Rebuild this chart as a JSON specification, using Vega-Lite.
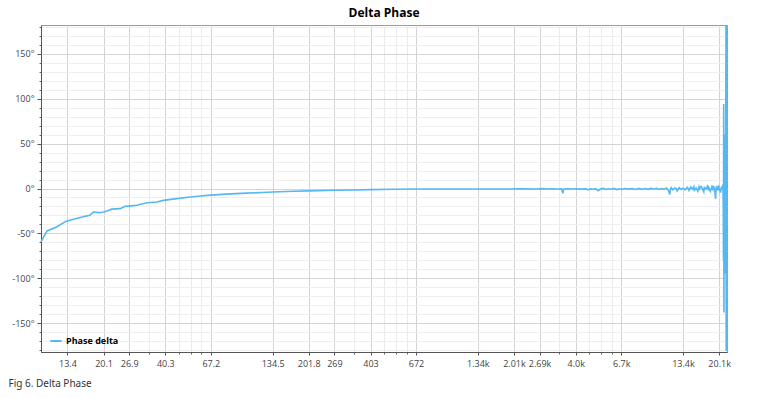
{
  "$schema": "https://vega.github.io/schema/vega-lite/v6.json",
  "width": 686,
  "height": 327,
  "autosize": "none",
  "padding": {"left": 41, "top": 25, "right": 33, "bottom": 46},
  "background": "white",
  "config": {
    "view": {"stroke": "#9a9a9a", "strokeWidth": 1},
    "font": "Open Sans"
  },
  "title": {
    "text": "Delta Phase",
    "font": "Open Sans",
    "fontSize": 12,
    "fontWeight": "bold",
    "color": "#000000",
    "anchor": "middle",
    "offset": 3
  },
  "data": {
    "values": [
      {"freq": 10, "phase": -59.3},
      {"freq": 10.7, "phase": -47.2},
      {"freq": 11.9, "phase": -42.8},
      {"freq": 13.2, "phase": -36.6},
      {"freq": 14.4, "phase": -34.3},
      {"freq": 16.4, "phase": -31.0},
      {"freq": 17.3, "phase": -29.8},
      {"freq": 18.0, "phase": -26.2},
      {"freq": 19.0, "phase": -26.8},
      {"freq": 19.8, "phase": -26.7},
      {"freq": 21.0, "phase": -25.0},
      {"freq": 22.1, "phase": -23.0},
      {"freq": 24.3, "phase": -22.4},
      {"freq": 25.7, "phase": -19.9},
      {"freq": 27.5, "phase": -19.3},
      {"freq": 29.3, "phase": -18.6},
      {"freq": 32.8, "phase": -15.8},
      {"freq": 36.7, "phase": -15.0},
      {"freq": 39.5, "phase": -13.2},
      {"freq": 45.9, "phase": -11.3},
      {"freq": 53.4, "phase": -9.5},
      {"freq": 60, "phase": -8.4},
      {"freq": 67.2, "phase": -7.4},
      {"freq": 80, "phase": -6.3},
      {"freq": 100, "phase": -5.2},
      {"freq": 120, "phase": -4.4},
      {"freq": 134.5, "phase": -3.9},
      {"freq": 170, "phase": -3.1},
      {"freq": 201.8, "phase": -2.6},
      {"freq": 269, "phase": -2.0},
      {"freq": 340, "phase": -1.6},
      {"freq": 403, "phase": -1.3},
      {"freq": 520, "phase": -0.9},
      {"freq": 672, "phase": -0.6},
      {"freq": 900, "phase": -0.5},
      {"freq": 1200, "phase": -0.5},
      {"freq": 1700, "phase": -0.5},
      {"freq": 2200, "phase": -0.45},
      {"freq": 2600, "phase": -0.5},
      {"freq": 2800, "phase": -0.1},
      {"freq": 2900, "phase": -0.6},
      {"freq": 3100, "phase": -0.3},
      {"freq": 3300, "phase": -0.6},
      {"freq": 3450, "phase": -0.4},
      {"freq": 3492, "phase": -5.5},
      {"freq": 3530, "phase": -0.5},
      {"freq": 3700, "phase": -0.2},
      {"freq": 3900, "phase": -0.6},
      {"freq": 4100, "phase": -0.3},
      {"freq": 4300, "phase": -0.7},
      {"freq": 4500, "phase": -0.2},
      {"freq": 4650, "phase": -1.5},
      {"freq": 4750, "phase": -0.4},
      {"freq": 4900, "phase": -0.9},
      {"freq": 5050, "phase": -0.2},
      {"freq": 5200, "phase": -2.5},
      {"freq": 5350, "phase": -0.4},
      {"freq": 5500, "phase": 0.2},
      {"freq": 5650, "phase": -1.0},
      {"freq": 5800, "phase": -0.3},
      {"freq": 6000, "phase": -0.8},
      {"freq": 6200, "phase": 0.1},
      {"freq": 6400, "phase": -1.2},
      {"freq": 6600, "phase": -0.3},
      {"freq": 6800, "phase": -0.9},
      {"freq": 7000, "phase": 0.0},
      {"freq": 7300, "phase": -0.7},
      {"freq": 7600, "phase": -0.2},
      {"freq": 7900, "phase": -1.1},
      {"freq": 8200, "phase": 0.1},
      {"freq": 8500, "phase": -0.9},
      {"freq": 8800, "phase": -0.1},
      {"freq": 9100, "phase": -0.9},
      {"freq": 9400, "phase": 0.1},
      {"freq": 9700, "phase": -0.6},
      {"freq": 10000, "phase": 0.3},
      {"freq": 10300, "phase": -1.1},
      {"freq": 10600, "phase": -0.2},
      {"freq": 10900, "phase": -0.8},
      {"freq": 11200, "phase": 0.5},
      {"freq": 11400, "phase": -1.8},
      {"freq": 11614, "phase": -6.7},
      {"freq": 11700, "phase": -0.3},
      {"freq": 11800, "phase": 0.9},
      {"freq": 12000, "phase": -1.4},
      {"freq": 12300, "phase": 0.6},
      {"freq": 12500, "phase": -0.4},
      {"freq": 12600, "phase": -2.6},
      {"freq": 12900, "phase": 1.0},
      {"freq": 13200, "phase": -0.9},
      {"freq": 13500, "phase": 0.3},
      {"freq": 13800, "phase": -1.6},
      {"freq": 14100, "phase": 1.4},
      {"freq": 14300, "phase": -0.2},
      {"freq": 14400, "phase": -2.2},
      {"freq": 14700, "phase": 1.7},
      {"freq": 15000, "phase": -0.8},
      {"freq": 15200, "phase": 2.0},
      {"freq": 15300, "phase": -1.9},
      {"freq": 15600, "phase": 0.6},
      {"freq": 15900, "phase": -2.9},
      {"freq": 16100, "phase": 1.9},
      {"freq": 16200, "phase": -0.4},
      {"freq": 16500, "phase": 2.4},
      {"freq": 16800, "phase": -1.2},
      {"freq": 17000, "phase": -3.8},
      {"freq": 17100, "phase": 1.1},
      {"freq": 17400, "phase": -0.6},
      {"freq": 17700, "phase": 2.5},
      {"freq": 17900, "phase": -2.0},
      {"freq": 18000, "phase": 0.8},
      {"freq": 18300, "phase": -3.2},
      {"freq": 18600, "phase": 1.9},
      {"freq": 18800, "phase": -0.7},
      {"freq": 18900, "phase": 3.1},
      {"freq": 19200, "phase": -1.4},
      {"freq": 19400, "phase": -11.5},
      {"freq": 19500, "phase": -0.5},
      {"freq": 19600, "phase": 2.8},
      {"freq": 19900, "phase": -2.2},
      {"freq": 20100, "phase": 3.6},
      {"freq": 20200, "phase": -0.3},
      {"freq": 20500, "phase": -4.5},
      {"freq": 20700, "phase": 2.1},
      {"freq": 20900, "phase": -1.0},
      {"freq": 21050, "phase": 4.4},
      {"freq": 21150, "phase": -20},
      {"freq": 21200, "phase": -80},
      {"freq": 21250, "phase": 94},
      {"freq": 21300, "phase": -138},
      {"freq": 21400, "phase": 60},
      {"freq": 21500, "phase": -95},
      {"freq": 21600, "phase": 40},
      {"freq": 21700, "phase": -40},
      {"freq": 21800, "phase": 181},
      {"freq": 21850, "phase": -181},
      {"freq": 21900, "phase": 181},
      {"freq": 21950, "phase": -181},
      {"freq": 22000, "phase": 181},
      {"freq": 22040, "phase": -181}
    ]
  },
  "layer": [
    {
      "mark": {"type": "line", "opacity": 0},
      "encoding": {
        "x": {
          "field": "freq",
          "type": "quantitative",
          "scale": {"type": "log", "domain": [10, 22050], "nice": false},
          "axis": {
            "orient": "bottom",
            "values": [33.633, 47.086, 53.813, 60.539, 336.33, 470.86, 538.13, 605.39, 3363.3, 4708.6, 5381.3, 6053.9],
            "labels": false,
            "domain": false,
            "title": null,
            "grid": true,
            "gridColor": "#ebebeb",
            "gridWidth": 1,
            "ticks": true,
            "tickSize": 2,
            "tickColor": "#666666"
          }
        },
        "y": {
          "field": "phase",
          "type": "quantitative",
          "scale": {"domain": [-182, 182], "nice": false, "zero": false},
          "axis": {
            "orient": "left",
            "values": [-180, -170, -160, -140, -130, -120, -110, -90, -80, -70, -60, -40, -30, -20, -10, 10, 20, 30, 40, 60, 70, 80, 90, 110, 120, 130, 140, 160, 170, 180],
            "labels": false,
            "domain": false,
            "title": null,
            "grid": true,
            "gridColor": "#efefef",
            "gridWidth": 1,
            "ticks": true,
            "tickSize": 2,
            "tickColor": "#666666"
          }
        }
      }
    },
    {
      "mark": {"type": "line", "strokeWidth": 1.6, "interpolate": "linear"},
      "encoding": {
        "x": {
          "field": "freq",
          "type": "quantitative",
          "scale": {"type": "log", "domain": [10, 22050], "nice": false},
          "axis": {
            "orient": "bottom",
            "values": [13.453, 20.18, 26.906, 40.36, 67.266, 134.53, 201.8, 269.06, 403.6, 672.66, 1345.3, 2018, 2690.6, 4036, 6726.6, 13453, 20180],
            "labelExpr": "datum.value < 15 ? '13.4' : datum.value < 22 ? '20.1' : datum.value < 30 ? '26.9' : datum.value < 50 ? '40.3' : datum.value < 100 ? '67.2' : datum.value < 150 ? '134.5' : datum.value < 220 ? '201.8' : datum.value < 300 ? '269' : datum.value < 500 ? '403' : datum.value < 1000 ? '672' : datum.value < 1500 ? '1.34k' : datum.value < 2300 ? '2.01k' : datum.value < 3000 ? '2.69k' : datum.value < 5000 ? '4.0k' : datum.value < 10000 ? '6.7k' : datum.value < 15000 ? '13.4k' : '20.1k'",
            "labelFont": "Open Sans",
            "labelFontSize": 9,
            "labelColor": "#444444",
            "labelPadding": 4,
            "labelFlush": false,
            "labelOverlap": false,
            "domain": true,
            "domainColor": "#555555",
            "domainWidth": 1,
            "ticks": true,
            "tickSize": 3,
            "tickColor": "#555555",
            "grid": true,
            "gridColor": "#d4d4d4",
            "gridWidth": 1,
            "title": "Fig 6. Delta Phase",
            "titleFont": "Noto Sans",
            "titleFontSize": 10,
            "titleFontWeight": "normal",
            "titleColor": "#333333",
            "titleAlign": "left",
            "titleBaseline": "middle",
            "titleAnchor": "start",
            "titleX": -33,
            "titleY": 31
          }
        },
        "y": {
          "field": "phase",
          "type": "quantitative",
          "scale": {"domain": [-182, 182], "nice": false, "zero": false},
          "axis": {
            "orient": "left",
            "values": [-150, -100, -50, 0, 50, 100, 150],
            "labelExpr": "datum.value + '°'",
            "labelFont": "Open Sans",
            "labelFontSize": 9,
            "labelColor": "#444444",
            "labelPadding": 3,
            "domain": true,
            "domainColor": "#555555",
            "domainWidth": 1,
            "ticks": true,
            "tickSize": 4,
            "tickColor": "#555555",
            "grid": true,
            "gridColor": "#d4d4d4",
            "gridWidth": 1,
            "title": null
          }
        },
        "color": {
          "datum": "Phase delta",
          "type": "nominal",
          "scale": {"range": ["#55b8f2"]},
          "legend": {
            "title": null,
            "orient": "none",
            "legendX": 8,
            "legendY": 309,
            "padding": 0,
            "symbolType": "stroke",
            "symbolSize": 130,
            "symbolStrokeWidth": 2,
            "labelFont": "Open Sans",
            "labelFontSize": 9,
            "labelFontWeight": "bold",
            "labelColor": "#000000",
            "labelOffset": 3
          }
        }
      }
    }
  ],
  "resolve": {"axis": {"x": "independent", "y": "independent"}}
}
